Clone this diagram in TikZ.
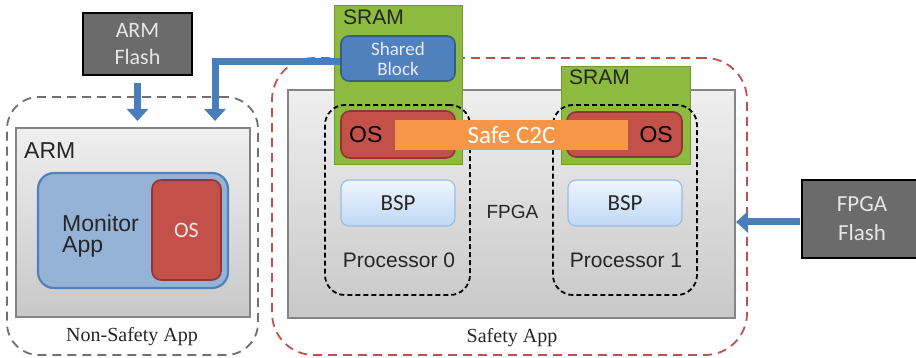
\documentclass[tikz,border=0pt]{standalone}
\usepackage{fontspec}
\usetikzlibrary{arrows.meta}
\newfontfamily\calfont{Carlito}
\newfontfamily\arialf{Liberation Sans}
\newfontfamily\timesf{Liberation Serif}
\newcommand{\fsz}[2]{\fontsize{#1}{#2}\selectfont}
\definecolor{flashgray}{HTML}{6B6B6B}
\definecolor{flashtext}{HTML}{E6E6E6}
\definecolor{boxtop}{HTML}{EFEFEF}
\definecolor{boxbot}{HTML}{C8C8C8}
\definecolor{boxline}{HTML}{858585}
\definecolor{monfill}{HTML}{95B3D7}
\definecolor{monline}{HTML}{4F81BD}
\definecolor{osfill}{HTML}{C4504A}
\definecolor{osline}{HTML}{8C3836}
\definecolor{sramfill}{HTML}{8CBB3F}
\definecolor{sramline}{HTML}{6F9A2E}
\definecolor{sharedfill}{HTML}{4F81BD}
\definecolor{sharedline}{HTML}{385D8A}
\definecolor{c2cfill}{HTML}{F79646}
\definecolor{bsptop}{HTML}{EEF5FE}
\definecolor{bspbot}{HTML}{C0D8F6}
\definecolor{bspline}{HTML}{9EBBE0}
\definecolor{arrowblue}{HTML}{4A7EBB}
\definecolor{safered}{HTML}{C0504D}
\definecolor{nsgray}{HTML}{707070}
\tikzset{
  flashbox/.style={draw=black, line width=1.8pt, fill=flashgray, text=flashtext,
    align=center, inner sep=0pt},
  chipbox/.style={draw=boxline, line width=1.2pt, top color=boxtop, bottom color=boxbot,
    inner sep=0pt},
  monbox/.style={draw=monline, line width=2.2pt, fill=monfill, rounded corners=16pt, inner sep=0pt},
  osbox/.style={draw=osline, line width=1.6pt, fill=osfill, rounded corners=9pt, inner sep=0pt},
  srambox/.style={draw=sramline, line width=1pt, fill=sramfill, inner sep=0pt},
  sharedbox/.style={draw=sharedline, line width=1.6pt, fill=sharedfill, rounded corners=8pt,
    text=white!92!blue, font=\calfont\fsz{19}{20}, align=center, inner sep=0pt},
  c2cbox/.style={fill=c2cfill, text=white, font=\calfont\fsz{25}{25}, inner sep=0pt},
  bspbox/.style={draw=bspline, line width=1.2pt, top color=bsptop, bottom color=bspbot,
    rounded corners=8pt, font=\calfont\fsz{23}{23}, text=black!85, inner sep=0pt},
  procbox/.style={draw=black, line width=1.8pt, dash pattern=on 5pt off 3pt,
    rounded corners=20pt, inner sep=0pt},
  nsregion/.style={draw=nsgray, line width=1.8pt, dash pattern=on 9pt off 6pt,
    rounded corners=32pt, inner sep=0pt},
  sregion/.style={draw=safered, line width=1.8pt, dash pattern=on 9pt off 6pt,
    rounded corners=42pt, inner sep=0pt},
  sanslabel/.style={font=\arialf\fsz{21}{21}, text=black!85, inner sep=0pt},
  seriflabel/.style={font=\timesf\fsz{20}{20}, text=black!85, inner sep=0pt},
  blockarrow/.style={draw=arrowblue, line width=7pt, line join=miter,
    -{Triangle[width=21pt,length=12pt]}},
}
\begin{document}
\begin{tikzpicture}[x=1pt,y=-1pt]
\useasboundingbox (0,0) rectangle (916,358);
\clip (0,0) rectangle (916,358);

% dashed application regions
\node[nsregion, minimum width=251pt, minimum height=258pt] (nonsafe) at (132.5,226) {};
\node[sregion, minimum width=475pt, minimum height=297pt] (safe) at (509.5,206.5) {};

% flash memories
\node[flashbox, font=\calfont\fsz{22}{27}, minimum width=109pt, minimum height=62pt] (armflash) at (137.5,44) {ARM\\Flash};
\node[flashbox, font=\calfont\fsz{23}{29}, minimum width=120pt, minimum height=78pt] (fpgaflash) at (862,219) {FPGA\\Flash};

% ARM side
\node[chipbox, minimum width=234pt, minimum height=189pt] (arm) at (133,222.5) {};
\node[sanslabel, font=\arialf\fsz{23}{23}, anchor=base west] (armlbl) at (24,159) {ARM};
\node[monbox, minimum width=190pt, minimum height=115pt] (monitor) at (133,230.5) {};
\node[osbox, minimum width=69pt, minimum height=100pt, font=\calfont\fsz{22}{22}, text=white!90!red] (armos) at (186.5,230) {OS};
\node[sanslabel, font=\arialf\fsz{23}{21}, align=left, anchor=west] (monlbl) at (62,236) {Monitor\\App};
\node[seriflabel] (nslbl) at (132,337) {Non-Safety App};

% FPGA side
\node[chipbox, minimum width=447pt, minimum height=228pt] (fpga) at (511.5,204) {};
\node[srambox, minimum width=128pt, minimum height=159pt] (sram0) at (398,85.5) {};
\node[srambox, minimum width=129pt, minimum height=98pt] (sram1) at (625.5,116) {};
\node[sanslabel, anchor=base west] (sram0lbl) at (343,25) {SRAM};
\node[sanslabel, anchor=base west] (sram1lbl) at (569,85) {SRAM};
\node[sharedbox, minimum width=114pt, minimum height=45pt] (shared) at (398,58.5) {Shared\\Block};
\node[osbox, minimum width=114pt, minimum height=47pt] (os0) at (398,134.5) {};
\node[osbox, minimum width=115pt, minimum height=45pt] (os1) at (624.5,134.5) {};
\node[sanslabel, font=\arialf\fsz{23}{23}, text=black, anchor=base west] (os0lbl) at (349,143) {OS};
\node[sanslabel, font=\arialf\fsz{23}{23}, text=black, anchor=base east] (os1lbl) at (673,143) {OS};
\node[procbox, minimum width=145pt, minimum height=190pt] (proc0) at (397.5,200) {};
\node[procbox, minimum width=144pt, minimum height=190pt] (proc1) at (625,200) {};
\node[c2cbox, minimum width=233pt, minimum height=30pt] (c2c) at (511.5,135) {Safe C2C};
\node[bspbox, minimum width=114pt, minimum height=46pt] (bsp0) at (398,203) {BSP};
\node[bspbox, minimum width=114pt, minimum height=46pt] (bsp1) at (625,203) {BSP};
\node[sanslabel, anchor=base] (proc0lbl) at (399,268) {Processor 0};
\node[sanslabel, anchor=base] (proc1lbl) at (626,268) {Processor 1};
\node[sanslabel, font=\arialf\fsz{19}{19}] (fpgalbl) at (512.5,212) {FPGA};
\node[seriflabel] (slbl) at (512,338) {Safety App};

% loading paths
\coordinate (armin) at (137.5,121);
\coordinate (sharedturn) at (215,62);
\coordinate (sharedin) at (215,121);
\coordinate (fpgain) at (736,222);
\coordinate (fpgaout) at (800,222);
\draw[blockarrow, shorten <=7pt] (armflash.south) -- (armin);
\draw[blockarrow] (shared.west |- sharedturn) -- (sharedturn) -- (sharedin);
\draw[blockarrow] (fpgaout) -- (fpgain);
\end{tikzpicture}
\end{document}
